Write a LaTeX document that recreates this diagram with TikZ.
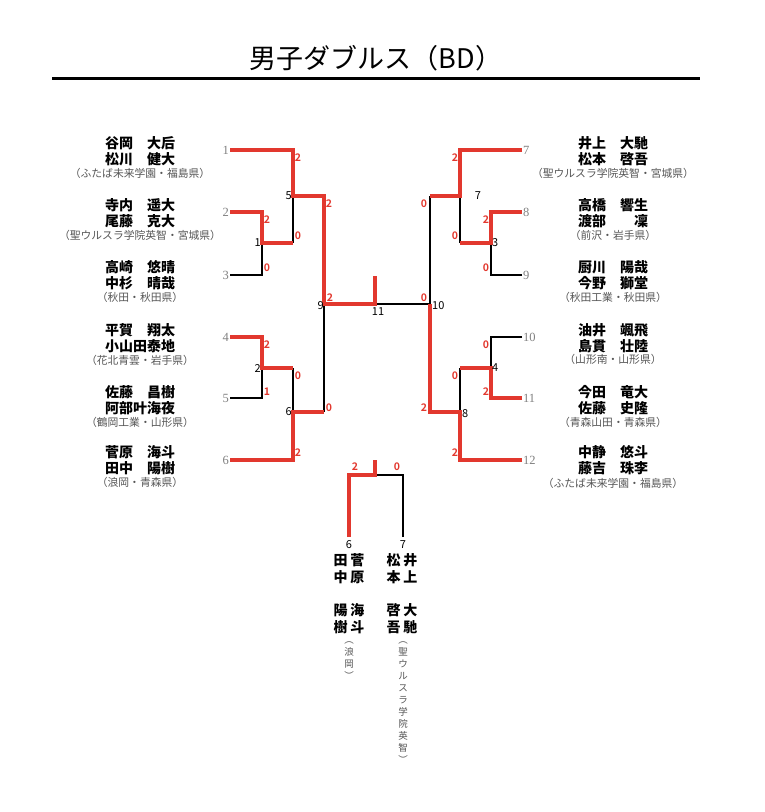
\documentclass[tikz,border=0pt]{standalone}
\usepackage{fontspec}
\setmainfont{Noto Sans CJK JP}[BoldFont={Noto Sans CJK JP Bold}]
\newfontfamily\heavyfont{Noto Sans CJK JP Black}
\newfontfamily\seedfont{Liberation Serif}
\definecolor{winred}{RGB}{226,56,46}
\definecolor{schoolgray}{RGB}{85,85,85}
\begin{document}
\begin{tikzpicture}[x=1pt, y=-1pt,
  win/.style={draw=winred, line width=4pt},
  lose/.style={draw=black, line width=1.2pt},
  names/.style={font=\heavyfont\fontsize{14}{15.5}\selectfont, align=center, inner sep=0pt},
  school/.style={font=\fontsize{10.8}{12}\selectfont, text=schoolgray, inner sep=0pt},
  score/.style={font=\fontsize{10.5}{12}\selectfont\bfseries, text=winred, inner sep=0pt},
  seed/.style={font=\seedfont\fontsize{12.5}{14}\selectfont, text=gray, inner sep=1pt},
  matchno/.style={font=\fontsize{11}{12}\selectfont, inner sep=1pt},
  vname/.style={font=\heavyfont\fontsize{14}{15}\selectfont, inner sep=0pt},
  vschool/.style={font=\fontsize{9.5}{12}\selectfont, text=schoolgray, align=center, inner sep=0pt}]
\useasboundingbox (0,0) rectangle (764,812);

% title
\node[font=\fontsize{27}{30}\selectfont] (title) at (376,58) {男子ダブルス（BD）};
\coordinate (ruleL) at (52,78);
\coordinate (ruleR) at (700,78);
\draw[line width=3pt] (ruleL) -- (ruleR);

% bracket points
\coordinate (e1) at (230,150);
\coordinate (e2) at (230,212);
\coordinate (e3) at (230,275);
\coordinate (e4) at (230,337);
\coordinate (e5) at (230,398);
\coordinate (e6) at (230,460);
\coordinate (e7) at (522,150);
\coordinate (e8) at (522,212);
\coordinate (e9) at (522,275);
\coordinate (e10) at (522,337);
\coordinate (e11) at (522,398);
\coordinate (e12) at (522,460);
\coordinate (m1) at (262,243);
\coordinate (m2) at (262,368);
\coordinate (m5) at (293,196);
\coordinate (m6) at (293,412);
\coordinate (m9) at (324,304);
\coordinate (m3) at (491,243);
\coordinate (m4) at (491,368);
\coordinate (m7) at (460,196);
\coordinate (m8) at (460,412);
\coordinate (m10) at (430,304);
\coordinate (fin) at (375,304);
\coordinate (fintop) at (375,276);
\coordinate (third) at (375,475);
\coordinate (thirdtop) at (375,460);
\coordinate (t6) at (349,537);
\coordinate (t7) at (403,537);

% losing lines
\draw[lose] (e3) -| (m1);
\draw[lose] (m1 -| m5) -- (m5);
\draw[lose] (e5) -| (m2);
\draw[lose] (m2 -| m6) -- (m6);
\draw[lose] (m6 -| m9) -- (m9);
\draw[lose] (e9) -| (m3);
\draw[lose] (m3 -| m7) -- (m7);
\draw[lose] (m7 -| m10) -- (m10);
\draw[lose] (e10) -| (m4);
\draw[lose] (m4 -| m8) -- (m8);
\draw[lose] (m10) -- (fin);
\draw[lose] (t7) |- (third);

% winning lines
\draw[win] (e1) -| (m5) -| (m9) -- (fin) -- (fintop);
\draw[win] (e2) -| (m1) -- (m1 -| m5);
\draw[win] (e4) -| (m2) -- (m2 -| m6);
\draw[win] (e6) -| (m6) -- (m6 -| m9);
\draw[win] (e7) -| (m7) -- (m7 -| m10);
\draw[win] (e8) -| (m3) -- (m3 -| m7);
\draw[win] (e11) -| (m4) -- (m4 -| m8);
\draw[win] (e12) -| (m8) -| (m10);
\draw[win] (t6) |- (third) -- (thirdtop);

% seed numbers
\node[seed, anchor=east] (s1) at (e1) {1};
\node[seed, anchor=east] (s2) at (e2) {2};
\node[seed, anchor=east] (s3) at (e3) {3};
\node[seed, anchor=east] (s4) at (e4) {4};
\node[seed, anchor=east] (s5) at (e5) {5};
\node[seed, anchor=east] (s6) at (e6) {6};
\node[seed, anchor=west] (s7) at (e7) {7};
\node[seed, anchor=west] (s8) at (e8) {8};
\node[seed, anchor=west] (s9) at (e9) {9};
\node[seed, anchor=west] (s10) at (e10) {10};
\node[seed, anchor=west] (s11) at (e11) {11};
\node[seed, anchor=west] (s12) at (e12) {12};

% match numbers
\node[matchno, anchor=east] (n1) at (m1) {1};
\node[matchno, anchor=east] (n2) at (m2) {2};
\node[matchno, anchor=east] (n5) at (m5) {5};
\node[matchno, anchor=east] (n6) at (m6) {6};
\node[matchno, anchor=east] (n9) at (325,306) {9};
\node[matchno, anchor=north] (n11) at (378,306) {11};
\node[matchno, anchor=west] (n10) at (431,306) {10};
\node[matchno, anchor=west] (n3) at (m3) {3};
\node[matchno, anchor=west] (n4) at (m4) {4};
\node[matchno] (n7) at (478,196) {7};
\node[matchno, anchor=west] (n8) at (461,414) {8};
\node[matchno] (n6b) at (349,545) {6};
\node[matchno] (n7b) at (403,545) {7};

% scores
\node[score] (c1) at (298,158) {2};
\node[score] (c2) at (267,220) {2};
\node[score] (c3) at (267,268) {0};
\node[score] (c4) at (298,236) {0};
\node[score] (c5) at (329,204) {2};
\node[score] (c6) at (267,345) {2};
\node[score] (c7) at (267,392) {1};
\node[score] (c8) at (298,376) {0};
\node[score] (c9) at (298,453) {2};
\node[score] (c10) at (329,408) {0};
\node[score] (c11) at (330,298) {2};
\node[score] (c12) at (455,158) {2};
\node[score] (c13) at (486,220) {2};
\node[score] (c14) at (486,268) {0};
\node[score] (c15) at (455,236) {0};
\node[score] (c16) at (424,204) {0};
\node[score] (c17) at (486,345) {0};
\node[score] (c18) at (486,392) {2};
\node[score] (c19) at (455,376) {0};
\node[score] (c20) at (455,453) {2};
\node[score] (c21) at (424,408) {2};
\node[score] (c22) at (424,298) {0};
\node[score] (c23) at (355,467) {2};
\node[score] (c24) at (397,467) {0};

% left players
\node[names] (p1) at (140,151) {谷岡　大后\\松川　健大};
\node[school] (h1) at (140,173) {（ふたば未来学園・福島県）};
\node[names] (p2) at (140,213) {寺内　遥大\\尾藤　克大};
\node[school] (h2) at (140,235) {（聖ウルスラ学院英智・宮城県）};
\node[names] (p3) at (140,275) {高崎　悠晴\\中杉　晴哉};
\node[school] (h3) at (140,297) {（秋田・秋田県）};
\node[names] (p4) at (140,338) {平賀　翔太\\小山田泰地};
\node[school] (h4) at (140,360) {（花北青雲・岩手県）};
\node[names] (p5) at (140,400) {佐藤　昌樹\\阿部叶海夜};
\node[school] (h5) at (140,422) {（鶴岡工業・山形県）};
\node[names] (p6) at (140,460) {菅原　海斗\\田中　陽樹};
\node[school] (h6) at (140,482) {（浪岡・青森県）};

% right players
\node[names] (p7) at (613,151) {井上　大馳\\松本　啓吾};
\node[school] (h7) at (613,173) {（聖ウルスラ学院英智・宮城県）};
\node[names] (p8) at (613,213) {高橋　響生\\渡部　　凜};
\node[school] (h8) at (613,235) {（前沢・岩手県）};
\node[names] (p9) at (613,275) {厨川　陽哉\\今野　獅堂};
\node[school] (h9) at (613,297) {（秋田工業・秋田県）};
\node[names] (p10) at (613,338) {油井　颯飛\\島貫　壮陸};
\node[school] (h10) at (613,359) {（山形南・山形県）};
\node[names] (p11) at (613,400) {今田　竜大\\佐藤　史隆};
\node[school] (h11) at (613,422) {（青森山田・青森県）};
\node[names] (p12) at (613,460) {中静　悠斗\\藤吉　珠李};
\node[school] (h12) at (613,483) {（ふたば未来学園・福島県）};

% third place players, written vertically
\node[vname] (v1) at (349,560) {田\hspace{3pt}菅};
\node[vname] (v2) at (349,577) {中\hspace{3pt}原};
\node[vname] (v3) at (349,610) {陽\hspace{3pt}海};
\node[vname] (v4) at (349,627) {樹\hspace{3pt}斗};
\node[vname] (v5) at (402,560) {松\hspace{3pt}井};
\node[vname] (v6) at (402,577) {本\hspace{3pt}上};
\node[vname] (v7) at (402,610) {啓\hspace{3pt}大};
\node[vname] (v8) at (402,627) {吾\hspace{3pt}馳};
\node[vschool, anchor=north] (vs1) at (349,642) {︵\\浪\\岡\\︶};
\node[vschool, anchor=north] (vs2) at (403,642) {︵\\聖\\ウ\\ル\\ス\\ラ\\学\\院\\英\\智\\︶};
\end{tikzpicture}
\end{document}
